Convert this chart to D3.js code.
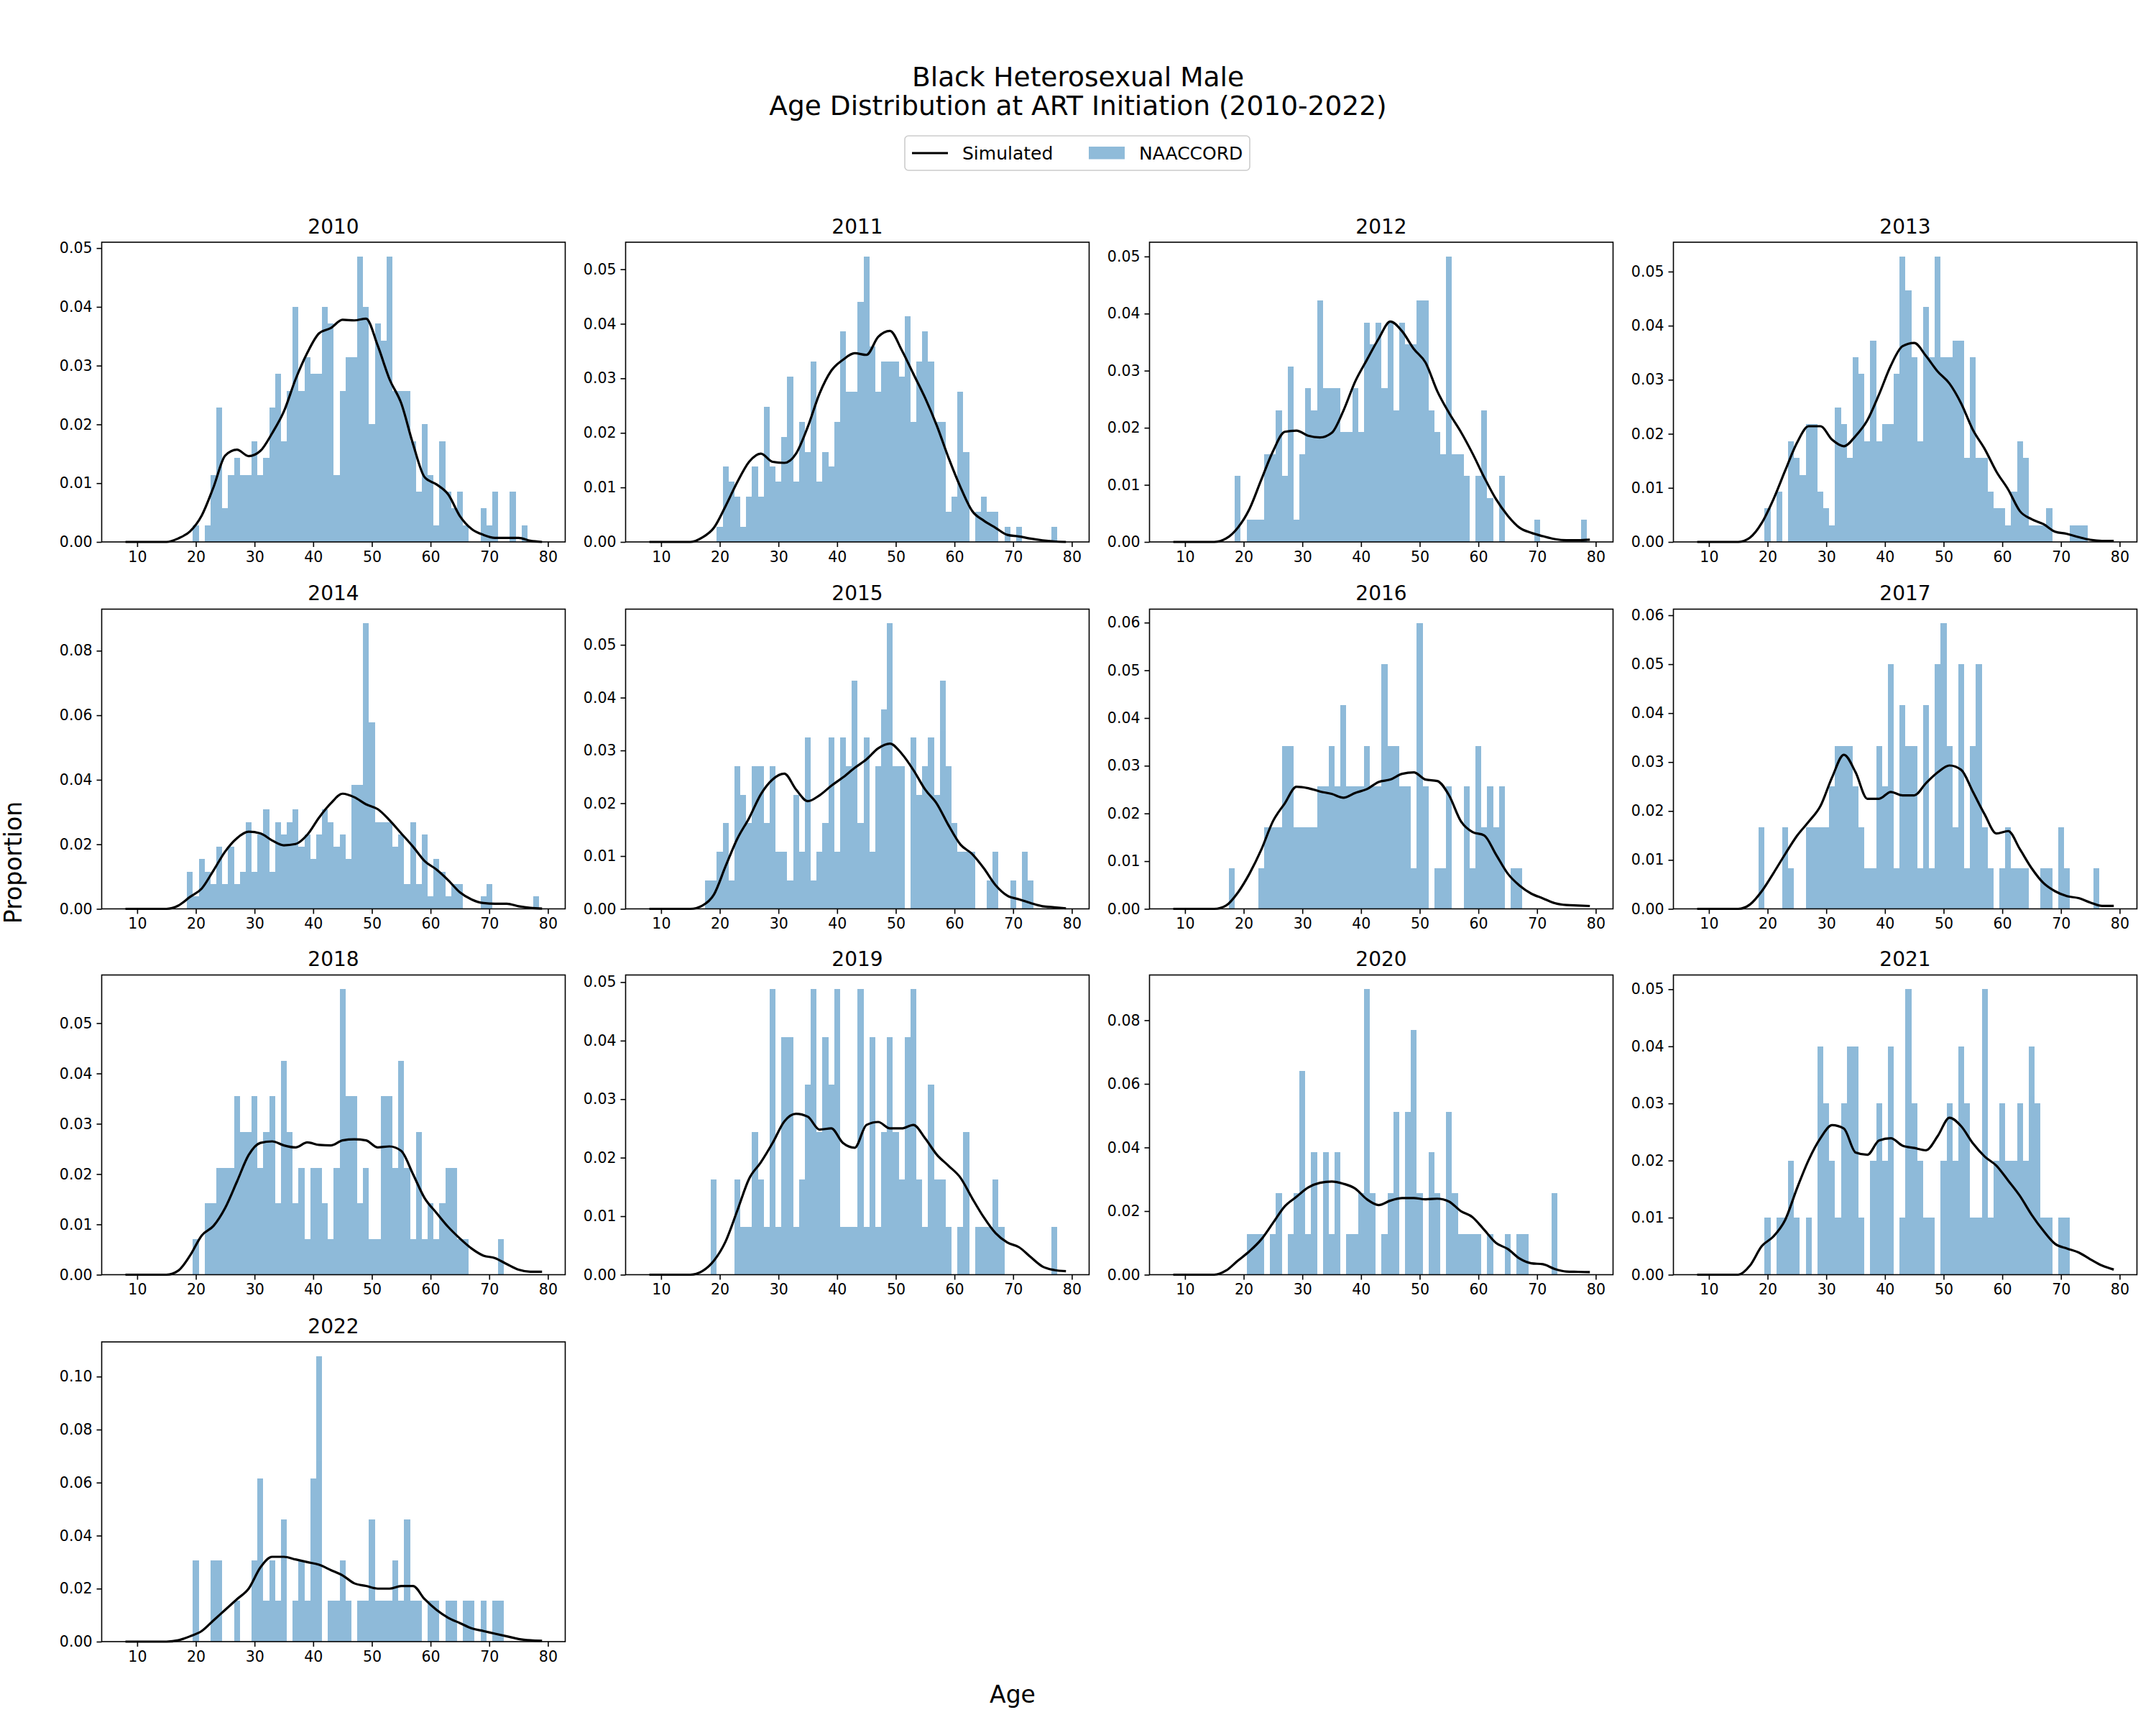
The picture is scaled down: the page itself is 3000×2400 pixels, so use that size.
<!DOCTYPE html>
<html>
<head>
<meta charset="utf-8">
<script src="https://cdn.jsdelivr.net/npm/d3@7/dist/d3.min.js"></script>
<style>
  body { margin: 0; background: #fff; }
  text { font-family: "DejaVu Sans", sans-serif; }
</style>
</head>
<body>
<div id="chart"></div>
<script>
// years shown, one panel each
var years = [2010, 2011, 2012, 2013, 2014, 2015, 2016, 2017, 2018, 2019, 2020, 2021, 2022];

// histogram bins: one bar per age, 18 .. 79
var histAges = d3.range(18, 80);

// NAACCORD counts per age (18..79)
var counts2010 = [0,0, 1,0,1,4,8,2,4,5,4,4, 6,4,5,8,10,6,9,14,9,11, 10,10,14,13,4,9,11,11,17,14, 7,13,12,17,9,9,9,6,3,7, 4,1,6,3,2,3,1,0,0,2, 1,3,0,0,3,0,1,0,0,0];
var counts2011 = [0,0, 1,5,4,3,1,3,5,3,9,5, 4,7,11,4,8,6,12,4,6,5, 8,14,10,10,16,19,13,10,12,12, 12,11,15,8,12,14,12,8,8,2, 3,10,6,0,2,3,2,2,0,1, 0,1,0,0,0,0,0,1,0,0];
var counts2012 = [0,3, 0,1,1,1,4,4,6,3,8,1, 4,7,6,11,7,7,7,5,5,7, 5,10,9,10,7,10,6,10,9,9, 11,11,6,5,4,13,4,4,3,0, 3,6,2,0,3,0,0,0,0,0, 1,0,0,0,0,0,0,0,1,0];
var counts2013 = [0,0, 2,0,3,0,6,5,4,7,7,3, 2,1,8,7,5,11,10,6,12,6, 7,7,10,17,15,11,6,14,11,17, 11,11,12,12,5,11,5,5,3,2, 2,1,3,6,5,1,1,1,2,0, 0,0,1,1,1,0,0,0,0,0];
var counts2014 = [0,3, 1,4,3,2,5,2,5,2,3,7, 3,6,8,3,7,6,7,8,5,6, 4,6,8,7,5,6,4,10,10,23, 15,7,7,7,5,6,2,7,2,6, 1,4,3,1,2,2,0,0,0,1, 2,0,0,0,0,0,0,0,1,0];
var counts2015 = [1,1, 2,3,1,5,4,3,5,5,3,5, 2,2,1,4,2,6,1,2,3,6, 2,6,5,8,3,6,2,5,7,10, 5,5,0,6,4,5,6,4,8,5, 3,2,2,2,0,0,1,2,0,0, 1,0,2,1,0,0,0,0,0,0];
var counts2016 = [1,0, 0,0,0,1,2,2,2,4,4,2, 2,2,2,3,3,4,3,5,3,3, 3,4,3,3,6,4,4,3,3,1, 7,3,0,1,1,3,0,0,3,1, 4,2,3,2,3,0,1,1,0,0, 0,0,0,0,0,0,0,0,0,0];
var counts2017 = [0,2, 0,0,0,2,1,0,0,2,2,2, 2,3,4,4,4,3,2,1,1,4, 3,6,1,5,4,4,1,5,1,6, 7,4,2,6,1,4,6,2,1,0, 1,2,1,1,1,0,0,1,1,0, 2,1,0,0,0,0,1,0,0,0];
var counts2018 = [0,0, 1,0,2,2,3,3,3,5,4,4, 5,3,4,5,2,6,4,2,3,1, 3,3,2,1,3,8,5,5,2,3, 1,1,5,5,3,6,3,1,4,1, 2,1,2,3,3,1,1,0,0,0, 0,0,1,0,0,0,0,0,0,0];
var counts2019 = [0,2, 0,0,0,2,1,1,3,2,1,6, 1,5,5,1,2,4,6,3,5,4, 6,1,1,1,6,1,5,1,3,5, 3,2,5,6,2,1,4,2,2,1, 0,1,3,0,1,1,1,2,1,0, 0,0,0,0,0,0,0,1,0,0];
var counts2020 = [0,0, 0,1,1,1,0,1,2,0,1,2, 5,1,3,0,3,1,3,0,1,1, 2,7,2,0,1,2,4,0,4,6, 2,0,3,2,0,4,2,1,1,1, 1,0,1,0,0,1,0,1,1,0, 0,0,0,2,0,0,0,0,0,0];
var counts2021 = [0,0, 1,0,1,1,2,1,0,1,0,4, 3,2,1,3,4,4,1,0,2,3, 2,4,0,1,5,3,2,1,1,0, 2,3,2,4,3,1,1,5,1,2, 3,2,2,3,2,4,3,1,1,0, 1,1,0,0,0,0,0,0,0,0];
var counts2022 = [0,0, 2,0,0,2,2,0,0,1,0,0, 2,4,1,2,1,3,0,1,2,1, 4,7,0,1,1,2,1,0,1,1, 3,1,1,1,2,1,3,1,1,0, 1,1,0,1,1,0,1,1,0,1, 0,1,1,0,0,0,0,0,0,0];

// ages where the simulated density was read off
var lineAges = [8, 13, 15, 17, 19, 21, 23, 25, 27, 29, 31, 33, 35, 37, 39, 41, 43, 45, 47, 49,
  51, 53, 55, 57, 59, 61, 63, 65, 67, 69, 71, 73, 75, 77, 79];

// simulated density at those ages
var sim2010 = [0,0,0, 0.0006,0.0018,0.0045,0.0093,0.0147,0.0157,0.0146,0.0155,0.0185,0.0222,0.0277,0.0322,0.0355,0.0364,0.0378,0.0377,0.038,0.0334,0.0277,0.0236,0.0167,0.011,0.0098,0.0081,0.0044,0.0022,0.0012,0.0007,0.0007,0.0007,0.0002,0];
var sim2011 = [0,0,0, 0.0008,0.0026,0.0066,0.011,0.0147,0.0162,0.0147,0.0145,0.0162,0.0211,0.0272,0.0314,0.0334,0.0346,0.0343,0.0376,0.0387,0.0352,0.0308,0.0264,0.0213,0.0154,0.0101,0.0057,0.0039,0.0026,0.0013,0.001,0.0006,0.0003,0.0001,0];
var sim2012 = [0,0,0, 0.0006,0.0025,0.0058,0.0109,0.0159,0.0193,0.0195,0.0186,0.0183,0.0191,0.023,0.0281,0.0319,0.0356,0.0386,0.0369,0.0338,0.0314,0.0264,0.0226,0.0193,0.0155,0.0113,0.0075,0.0046,0.0025,0.0016,0.001,0.0005,0.0003,0.0003,0.0004];
var sim2013 = [0,0,0, 0.0008,0.0035,0.0079,0.0132,0.0183,0.0214,0.0214,0.0189,0.0177,0.0196,0.0225,0.0273,0.0326,0.0362,0.0368,0.0344,0.0315,0.0293,0.0256,0.0207,0.0172,0.013,0.0097,0.0057,0.0042,0.0033,0.0019,0.0015,0.0009,0.0004,0.0002,0.0002];
var sim2014 = [0,0,0, 0.001,0.0037,0.0063,0.0119,0.0178,0.0219,0.0239,0.0234,0.0212,0.0197,0.0201,0.023,0.0283,0.0327,0.0357,0.0346,0.0324,0.0309,0.0275,0.0234,0.0193,0.0148,0.0122,0.0089,0.0051,0.0029,0.0018,0.0016,0.0016,0.0008,0.0003,0.0001];
var sim2015 = [0,0,0, 0.0006,0.0027,0.0081,0.0133,0.0172,0.0217,0.0245,0.0256,0.0226,0.0204,0.0215,0.0233,0.0249,0.0267,0.0283,0.0304,0.0313,0.0294,0.0263,0.0226,0.0199,0.0158,0.0122,0.0104,0.0077,0.0045,0.0025,0.0018,0.0011,0.0005,0.0003,0.0001];
var sim2016 = [0,0,0, 0.0007,0.0034,0.0074,0.0124,0.0184,0.0221,0.0256,0.0253,0.0246,0.0241,0.0233,0.0243,0.0251,0.0266,0.0271,0.0283,0.0286,0.0271,0.0268,0.0238,0.0184,0.0161,0.0154,0.0114,0.0074,0.0049,0.0032,0.0022,0.0012,0.0008,0.0007,0.0006];
var sim2017 = [0,0,0, 0.0009,0.0036,0.0073,0.0112,0.0149,0.0178,0.021,0.0269,0.0315,0.0279,0.0225,0.0225,0.0239,0.0232,0.0232,0.0257,0.0279,0.0293,0.0284,0.0239,0.0193,0.0154,0.0159,0.0122,0.0083,0.0053,0.0036,0.0026,0.0022,0.0013,0.0006,0.0006];
var sim2018 = [0,0,0, 0.0008,0.0038,0.0078,0.0097,0.0133,0.0185,0.0238,0.0262,0.0265,0.0257,0.0253,0.0263,0.0258,0.0257,0.0267,0.0269,0.0267,0.0253,0.0255,0.0246,0.02,0.0152,0.0123,0.0095,0.0072,0.0052,0.0038,0.0033,0.0021,0.001,0.0006,0.0006];
var sim2019 = [0,0,0, 0.0006,0.0024,0.0057,0.011,0.0164,0.0192,0.0225,0.0262,0.0275,0.027,0.0248,0.025,0.0225,0.0217,0.0256,0.0261,0.025,0.025,0.0256,0.0233,0.0205,0.0186,0.0166,0.0131,0.0098,0.0071,0.0055,0.0047,0.003,0.0014,0.0008,0.0006];
var sim2020 = [0,0,0, 0.0013,0.0044,0.0074,0.0111,0.0163,0.0215,0.0245,0.0274,0.0289,0.0293,0.0286,0.0271,0.0237,0.0219,0.0233,0.0241,0.0241,0.0237,0.0239,0.023,0.02,0.0181,0.0141,0.01,0.0081,0.0051,0.0036,0.0033,0.0018,0.001,0.0009,0.0008];
var sim2021 = [0,0,0, 0.0016,0.005,0.0067,0.0096,0.0151,0.0201,0.0239,0.0262,0.0256,0.0214,0.021,0.0235,0.0239,0.0226,0.0222,0.0218,0.0243,0.0275,0.026,0.023,0.0207,0.0191,0.0165,0.0138,0.0105,0.0077,0.0054,0.0046,0.0039,0.0027,0.0016,0.0009];
var sim2022 = [0,0,0, 0.0005,0.002,0.004,0.008,0.012,0.016,0.02,0.028,0.032,0.032,0.031,0.03,0.029,0.027,0.025,0.022,0.021,0.02,0.02,0.021,0.021,0.016,0.012,0.009,0.007,0.005,0.004,0.003,0.002,0.001,0.0005,0.0003];

var xTicks = [10, 20, 30, 40, 50, 60, 70, 80];

var countsByYear = [counts2010, counts2011, counts2012, counts2013, counts2014, counts2015,
  counts2016, counts2017, counts2018, counts2019, counts2020, counts2021, counts2022];
var simByYear = [sim2010, sim2011, sim2012, sim2013, sim2014, sim2015,
  sim2016, sim2017, sim2018, sim2019, sim2020, sim2021, sim2022];

// figure size and panel grid
var width = 3000,
  height = 2400,
  panelW = 645,
  panelH = 417;
var colX = [141.5, 870.5, 1599.5, 2328.5];
var rowY = [337, 847.5, 1356.5, 1867];

var svg = d3.select("#chart")
  .append("svg")
  .attr("width", width)
  .attr("height", height)
  .style("background", "#fff");

// suptitle
svg.append("text")
  .attr("x", width / 2)
  .attr("y", 120)
  .attr("text-anchor", "middle")
  .style("font-size", "37.5px")
  .text("Black Heterosexual Male");
svg.append("text")
  .attr("x", width / 2)
  .attr("y", 160)
  .attr("text-anchor", "middle")
  .style("font-size", "37.5px")
  .text("Age Distribution at ART Initiation (2010-2022)");

// legend
var legend = svg.append("g").attr("transform", "translate(1259,189)");
legend.append("rect")
  .attr("width", 480)
  .attr("height", 48)
  .attr("rx", 5)
  .style("fill", "#fff")
  .style("stroke", "#cccccc")
  .style("stroke-width", 1.6);
legend.append("line")
  .attr("x1", 10).attr("x2", 60)
  .attr("y1", 24).attr("y2", 24)
  .style("stroke", "#000")
  .style("stroke-width", 3.2);
legend.append("text")
  .attr("x", 80).attr("y", 33)
  .style("font-size", "25px")
  .text("Simulated");
legend.append("rect")
  .attr("x", 256).attr("y", 15)
  .attr("width", 50).attr("height", 17.5)
  .style("fill", "#1f77b4")
  .style("opacity", 0.5);
legend.append("text")
  .attr("x", 326).attr("y", 33)
  .style("font-size", "25px")
  .text("NAACCORD");

// axis labels for the whole figure
svg.append("text")
  .attr("x", 1409)
  .attr("y", 2369)
  .attr("text-anchor", "middle")
  .style("font-size", "33px")
  .text("Age");
svg.append("text")
  .attr("transform", "translate(30,1200) rotate(-90)")
  .attr("text-anchor", "middle")
  .style("font-size", "33px")
  .text("Proportion");

// one panel per year
years.forEach(function(year, i) {
  var counts = countsByYear[i];
  var sim = simByYear[i];
  var total = d3.sum(counts);
  var props = counts.map(function(c) { return c / total; });

  var g = svg.append("g")
    .attr("transform", "translate(" + colX[i % 4] + "," + rowY[Math.floor(i / 4)] + ")");

  var x = d3.scaleLinear().domain([3.95, 82.95]).range([0, panelW]);
  var yMax = Math.max(d3.max(props), d3.max(sim)) * 1.05;
  var y = d3.scaleLinear().domain([0, yMax]).range([panelH, 0]);

  // bars, opacity on the group so touching bars don't overlap
  g.append("g")
    .style("opacity", 0.5)
    .selectAll("rect")
    .data(histAges.filter(function(a, j) { return counts[j] > 0; }))
    .enter()
    .append("rect")
    .attr("x", function(a) { return x(a - 0.5); })
    .attr("width", function(a) { return x(a + 0.5) - x(a - 0.5); })
    .attr("y", function(a) { return y(props[histAges.indexOf(a)]); })
    .attr("height", function(a) { return panelH - y(props[histAges.indexOf(a)]); })
    .style("fill", "#1f77b4")
    .attr("shape-rendering", "crispEdges");

  // simulated line
  var line = d3.line()
    .x(function(d, j) { return x(lineAges[j]); })
    .y(function(d) { return y(d); })
    .curve(d3.curveMonotoneX);
  g.append("path")
    .attr("d", line(sim))
    .style("fill", "none")
    .style("stroke", "#000")
    .style("stroke-width", 3.2)
    .style("stroke-linejoin", "round");

  // axes
  var xAxis = g.append("g")
    .attr("transform", "translate(0," + panelH + ")")
    .call(d3.axisBottom(x).tickValues(xTicks).tickSize(7).tickPadding(6));
  var yAxis = g.append("g")
    .call(d3.axisLeft(y).ticks(6).tickFormat(d3.format(".2f")).tickSize(7).tickPadding(6));
  [xAxis, yAxis].forEach(function(ax) {
    ax.select(".domain").remove();
    ax.attr("font-family", "DejaVu Sans").attr("font-size", 20.5);
    ax.selectAll("line").style("stroke", "#000").style("stroke-width", 1.6);
    ax.selectAll("text").style("fill", "#000");
  });

  // frame
  g.append("rect")
    .attr("width", panelW)
    .attr("height", panelH)
    .style("fill", "none")
    .style("stroke", "#000")
    .style("stroke-width", 1.6);

  // panel title
  g.append("text")
    .attr("x", panelW / 2)
    .attr("y", -12.5)
    .attr("text-anchor", "middle")
    .style("font-size", "28px")
    .text(year);
});
</script>
</body>
</html>
